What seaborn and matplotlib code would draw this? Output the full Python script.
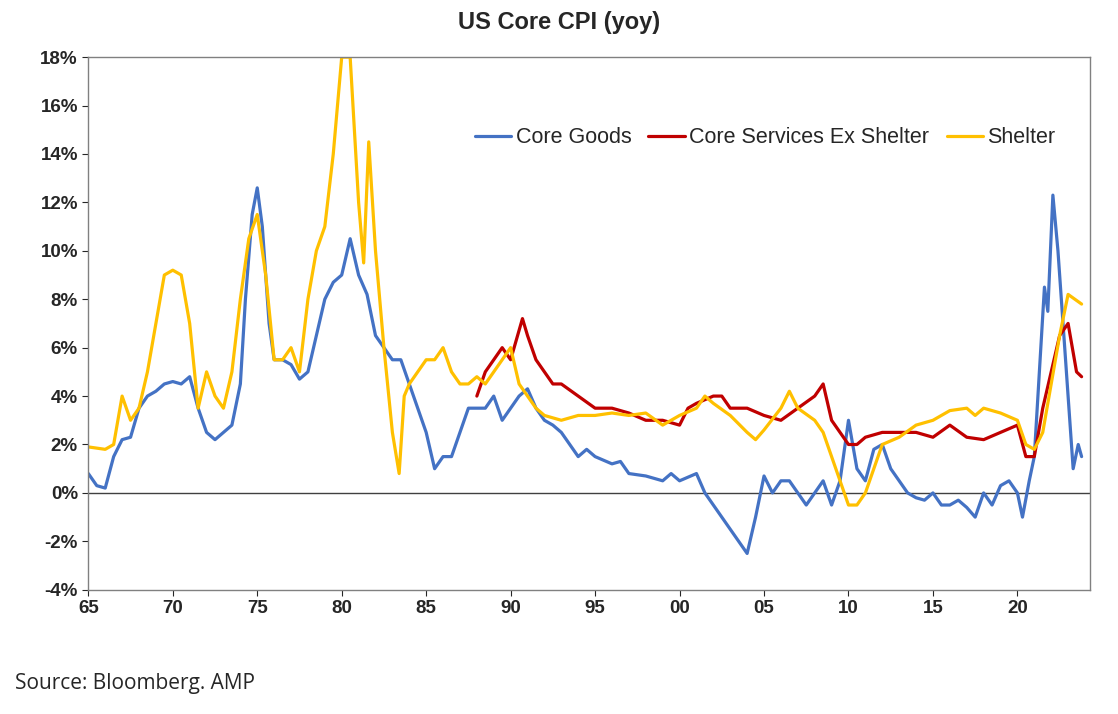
import matplotlib
matplotlib.use('Agg')
import matplotlib.pyplot as plt
import seaborn as sns
import pandas as pd

sns.set_style('white')
plt.rcParams['font.family'] = ['Liberation Sans', 'DejaVu Sans']

# Core goods (yoy %)
goods_x = [1965, 1965.5, 1966, 1966.5, 1967, 1967.5, 1968, 1968.5, 1969, 1969.5, 1970, 1970.5, 1971, 1971.5,
           1972, 1972.5, 1973, 1973.5, 1974, 1974.3, 1974.7, 1975, 1975.3, 1975.7, 1976, 1976.5, 1977, 1977.5,
           1978, 1978.5, 1979, 1979.5, 1980, 1980.5, 1981, 1981.5, 1982, 1982.5, 1983, 1983.5, 1984, 1984.5,
           1985, 1985.5, 1986, 1986.5, 1987, 1987.5, 1988, 1988.5, 1989, 1989.5, 1990, 1990.5, 1991, 1991.5,
           1992, 1992.5, 1993, 1993.5, 1994, 1994.5, 1995, 1996, 1996.5, 1997, 1998, 1999, 1999.5, 2000,
           2001, 2001.5, 2002, 2002.5, 2003, 2003.5, 2004, 2004.5, 2005, 2005.5, 2006, 2006.5, 2007, 2007.5,
           2008, 2008.5, 2009, 2009.5, 2010, 2010.5, 2011, 2011.5, 2012, 2012.5, 2013, 2013.5, 2014, 2014.5,
           2015, 2015.5, 2016, 2016.5, 2017, 2017.5, 2018, 2018.5, 2019, 2019.5, 2020, 2020.3, 2020.7, 2021,
           2021.3, 2021.6, 2021.8, 2022.1, 2022.4, 2022.7, 2023, 2023.3, 2023.6, 2023.8]
goods_y = [0.8, 0.3, 0.2, 1.5, 2.2, 2.3, 3.5, 4.0, 4.2, 4.5, 4.6, 4.5, 4.8, 3.5,
           2.5, 2.2, 2.5, 2.8, 4.5, 8.0, 11.5, 12.6, 11.0, 7.0, 5.5, 5.5, 5.3, 4.7,
           5.0, 6.5, 8.0, 8.7, 9.0, 10.5, 9.0, 8.2, 6.5, 6.0, 5.5, 5.5, 4.5, 3.5,
           2.5, 1.0, 1.5, 1.5, 2.5, 3.5, 3.5, 3.5, 4.0, 3.0, 3.5, 4.0, 4.3, 3.5,
           3.0, 2.8, 2.5, 2.0, 1.5, 1.8, 1.5, 1.2, 1.3, 0.8, 0.7, 0.5, 0.8, 0.5,
           0.8, 0.0, -0.5, -1.0, -1.5, -2.0, -2.5, -1.0, 0.7, 0.0, 0.5, 0.5, 0.0, -0.5,
           0.0, 0.5, -0.5, 0.5, 3.0, 1.0, 0.5, 1.8, 2.0, 1.0, 0.5, 0.0, -0.2, -0.3,
           0.0, -0.5, -0.5, -0.3, -0.6, -1.0, 0.0, -0.5, 0.3, 0.5, 0.0, -1.0, 0.5, 1.5,
           5.0, 8.5, 7.5, 12.3, 10.0, 7.0, 4.0, 1.0, 2.0, 1.5]

# Core services ex shelter
serv_x = [1988, 1988.5, 1989, 1989.5, 1990, 1990.7, 1991, 1991.5, 1992, 1992.5, 1993, 1994, 1995, 1996,
          1997, 1998, 1999, 2000, 2000.5, 2001, 2002, 2002.5, 2003, 2004, 2005, 2006, 2007, 2008, 2008.5,
          2009, 2009.5, 2010, 2010.5, 2011, 2012, 2013, 2014, 2015, 2016, 2017, 2018, 2019, 2020, 2020.5,
          2021, 2021.5, 2022, 2022.5, 2023, 2023.5, 2023.8]
serv_y = [4.0, 5.0, 5.5, 6.0, 5.5, 7.2, 6.5, 5.5, 5.0, 4.5, 4.5, 4.0, 3.5, 3.5,
          3.3, 3.0, 3.0, 2.8, 3.5, 3.7, 4.0, 4.0, 3.5, 3.5, 3.2, 3.0, 3.5, 4.0, 4.5,
          3.0, 2.5, 2.0, 2.0, 2.3, 2.5, 2.5, 2.5, 2.3, 2.8, 2.3, 2.2, 2.5, 2.8, 1.5,
          1.5, 3.5, 5.0, 6.5, 7.0, 5.0, 4.8]

# Shelter
shel_x = [1965, 1966, 1966.5, 1967, 1967.5, 1968, 1968.5, 1969, 1969.5, 1970, 1970.5, 1971, 1971.5, 1972,
          1972.5, 1973, 1973.5, 1974, 1974.5, 1975, 1975.5, 1976, 1976.5, 1977, 1977.5, 1978, 1978.5, 1979,
          1979.5, 1980, 1980.5, 1981, 1981.3, 1981.6, 1982, 1982.5, 1983, 1983.4, 1983.7, 1984, 1984.5, 1985,
          1985.5, 1986, 1986.5, 1987, 1987.5, 1988, 1988.5, 1989, 1989.5, 1990, 1990.5, 1991, 1991.5, 1992,
          1993, 1994, 1995, 1996, 1997, 1998, 1999, 2000, 2001, 2001.5, 2002, 2003, 2004, 2004.5, 2005, 2006,
          2006.5, 2007, 2008, 2008.5, 2009, 2009.5, 2010, 2010.5, 2011, 2011.5, 2012, 2013, 2014, 2015, 2016,
          2017, 2017.5, 2018, 2019, 2020, 2020.5, 2021, 2021.5, 2022, 2022.5, 2023, 2023.4, 2023.8]
shel_y = [1.9, 1.8, 2.0, 4.0, 3.0, 3.5, 5.0, 7.0, 9.0, 9.2, 9.0, 7.0, 3.5, 5.0,
          4.0, 3.5, 5.0, 8.0, 10.5, 11.5, 9.0, 5.5, 5.5, 6.0, 5.0, 8.0, 10.0, 11.0,
          14.0, 18.0, 18.0, 12.0, 9.5, 14.5, 10.0, 6.0, 2.5, 0.8, 4.0, 4.5, 5.0, 5.5,
          5.5, 6.0, 5.0, 4.5, 4.5, 4.8, 4.5, 5.0, 5.5, 6.0, 4.5, 4.0, 3.5, 3.2,
          3.0, 3.2, 3.2, 3.3, 3.2, 3.3, 2.8, 3.2, 3.5, 4.0, 3.7, 3.2, 2.5, 2.2, 2.6, 3.5,
          4.2, 3.5, 3.0, 2.5, 1.5, 0.5, -0.5, -0.5, 0.0, 1.0, 2.0, 2.3, 2.8, 3.0, 3.4,
          3.5, 3.2, 3.5, 3.3, 3.0, 2.0, 1.8, 2.5, 4.5, 6.5, 8.2, 8.0, 7.8]

series = ['Core Goods', 'Core Services Ex Shelter', 'Shelter']
colors = ['#4472c4', '#c00000', '#ffc000']
df = pd.concat([
    pd.DataFrame({'year': goods_x, 'value': goods_y, 'series': series[0]}),
    pd.DataFrame({'year': serv_x, 'value': serv_y, 'series': series[1]}),
    pd.DataFrame({'year': shel_x, 'value': shel_y, 'series': series[2]}),
])

fig = plt.figure(figsize=(11.18, 7.14), dpi=100)
ax = fig.add_axes([0.079, 0.174, 0.896, 0.746])
ax.axhline(0, color='#404040', linewidth=1, zorder=1)
sns.lineplot(data=df, x='year', y='value', hue='series', hue_order=series,
             palette=colors, linewidth=2.3, ax=ax, sort=False)

ax.set_xlim(1965, 2024.3)
ax.set_ylim(-4, 18)
ax.set_xticks(range(1965, 2021, 5))
ax.set_xticklabels([f'{y % 100:02d}' for y in range(1965, 2021, 5)])
ax.set_yticks(range(-4, 19, 2))
ax.set_yticklabels([f'{v}%' for v in range(-4, 19, 2)])
ax.tick_params(labelsize=13.5, length=4, direction='out', bottom=True, left=True)
for lbl in ax.get_xticklabels() + ax.get_yticklabels():
    lbl.set_fontweight('bold')
ax.set_xlabel('')
ax.set_ylabel('')
for s in ax.spines.values():
    s.set_color('#808080')
    s.set_linewidth(1)

ax.legend(loc='upper right', bbox_to_anchor=(0.985, 0.905), ncol=3, frameon=False,
          fontsize=15.5, handlelength=1.7, columnspacing=0.8, handletextpad=0.2)
fig.suptitle('US Core CPI (yoy)', y=0.985, fontsize=17, fontweight='bold')
fig.text(0.013, 0.035, 'Source: Bloomberg. AMP', fontsize=15, family='Open Sans')

fig.savefig('out.png', dpi=100)
